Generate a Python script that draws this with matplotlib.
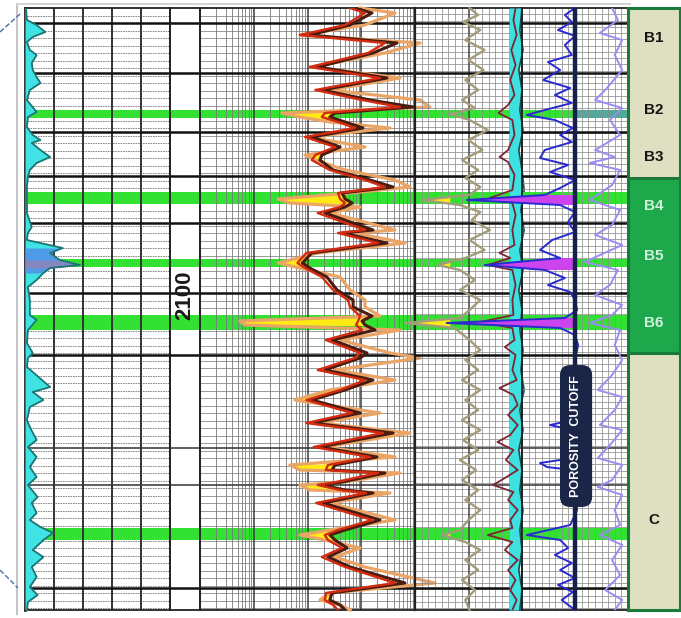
import numpy as np
import matplotlib.pyplot as plt
from matplotlib.lines import Line2D

plt.rcParams['font.family'] = ['Liberation Sans', 'DejaVu Sans']

# ---------------- data (depth in m) ----------------
TOP, BASE = 2043.0, 2163.4
major_depths = [2046.0, 2056.0, 2067.8, 2076.6, 2086.0, 2100.0, 2112.4, 2159.0]
medium_depths = [2131.0, 2138.4]
porous_tops = [2063.4, 2079.8, 2093.2, 2104.4, 2147.0]
porous_bases = [2065.0, 2082.2, 2094.8, 2107.4, 2149.4]

zone_names = ['B1', 'B2', 'B3', 'B4', 'B5', 'B6', 'C']
zone_label_depths = [2049.0, 2063.4, 2072.8, 2082.6, 2092.6, 2106.0, 2145.4]
unit_tops = [2043.0, 2077.0, 2112.0]
unit_bases = [2077.0, 2112.0, 2163.4]

# gamma ray (track 1)
gr_depth = [2043.0, 2045.4, 2046.4, 2047.8, 2048.8, 2049.8, 2051.4, 2052.4, 2054.0, 2055.4,
            2056.8, 2058.0, 2059.4, 2061.4, 2063.8, 2064.8, 2066.8, 2068.4, 2069.4, 2070.0,
            2071.4, 2072.8, 2074.0, 2075.4, 2076.8, 2078.8, 2081.4, 2084.0, 2086.8, 2088.0,
            2089.4, 2091.0, 2092.0, 2093.4, 2094.4, 2095.0, 2096.0, 2097.4, 2098.8, 2101.4,
            2104.4, 2105.4, 2107.4, 2110.0, 2112.0, 2113.0, 2114.8, 2118.8, 2119.8, 2121.4,
            2122.8, 2125.4, 2126.8, 2129.4, 2130.8, 2132.8, 2134.8, 2136.8, 2138.4, 2140.8,
            2142.0, 2144.0, 2145.4, 2146.8, 2148.0, 2149.4, 2151.4, 2152.8, 2154.8, 2156.8,
            2158.8, 2160.4, 2161.8, 2163.4]
gr_api = [1, 2, 12, 21, 8, 2, 5, 12, 7, 8,
          12, 16, 5, 2, 12, 3, 2, 8, 16, 7,
          16, 26, 12, 5, 3, 2, 2, 2, 7, 3,
          2, 39, 26, 36, 57, 26, 19, 12, 3, 5,
          5, 12, 3, 2, 8, 3, 2, 26, 8, 19,
          5, 2, 5, 12, 3, 12, 5, 12, 3, 13,
          7, 12, 5, 16, 29, 19, 8, 19, 7, 12,
          5, 13, 3, 2]

# resistivity (track 2), ohm.m
res_depth = [2043.0, 2044.0, 2046.4, 2048.4, 2050.0, 2052.0, 2054.8, 2057.0, 2059.4, 2061.4,
             2062.8, 2064.0, 2064.8, 2065.8, 2067.0, 2068.8, 2070.8, 2072.4, 2073.4, 2075.4,
             2077.4, 2078.8, 2080.0, 2081.2, 2082.0, 2082.8, 2084.0, 2087.4, 2088.0, 2090.0,
             2092.0, 2094.0, 2095.0, 2096.8, 2099.4, 2101.4, 2102.8, 2104.6, 2105.6, 2106.4,
             2107.4, 2109.4, 2112.0, 2113.0, 2115.4, 2117.4, 2119.4, 2121.4, 2124.0, 2126.0,
             2128.0, 2130.8, 2132.8, 2134.4, 2135.4, 2136.0, 2137.8, 2138.4, 2139.4, 2140.0,
             2142.0, 2145.4, 2147.4, 2148.4, 2149.4, 2151.0, 2152.8, 2154.8, 2158.0, 2160.0,
             2161.4, 2162.4, 2163.4]
res_deep = [153, 317, 124, 22, 925, 331, 31, 603, 37, 291,
            1837, 65, 52, 100, 216, 24, 81, 37, 34, 60,
            291, 779, 88, 100, 135, 100, 42, 331, 88, 603,
            24, 16, 22, 46, 71, 141, 141, 317, 207, 235,
            361, 57, 256, 190, 42, 331, 100, 24, 190, 25,
            779, 34, 393, 65, 57, 553, 88, 37, 100, 331,
            39, 447, 100, 52, 65, 109, 48, 124, 1303, 57,
            52, 81, 100]
res_med = [124, 235, 100, 14.5, 553, 267, 22, 447, 28, 207,
           1052, 42, 37, 74, 153, 18, 65, 28, 24, 52,
           235, 553, 74, 81, 100, 81, 31, 235, 74, 410,
           19, 13, 18, 37, 60, 113, 124, 190, 175, 160,
           207, 44, 190, 153, 31, 235, 81, 19, 135, 19,
           508, 26, 291, 48, 44, 410, 68, 31, 81, 245,
           29, 317, 74, 42, 48, 88, 37, 100, 849, 44,
           42, 60, 74]
res_shallow = [190, 849, 235, 14.5, 2478, 553, 24, 1052, 52, 2478,
               3800, 6.7, 14.5, 52, 686, 22, 235, 18, 28, 100,
               849, 1614, 124, 5.7, 9.4, 190, 52, 849, 153, 1303,
               31, 5.7, 14.5, 81, 124, 235, 235, 447, 1.1, 1.4,
               1052, 81, 686, 2478, 65, 849, 52, 11.7, 447, 34,
               1614, 42, 849, 9.4, 14.5, 1052, 100, 14.5, 22, 686,
               52, 849, 52, 14.5, 42, 190, 65, 235, 4710, 52,
               34, 81, 124]

# track 3 curves (scale 0-100)
olive_depth = [2043.0, 2044.4, 2045.8, 2047.4, 2049.4, 2051.4, 2053.4, 2055.4, 2057.4, 2059.4,
               2061.4, 2063.0, 2064.2, 2065.4, 2067.4, 2069.4, 2071.4, 2073.4, 2075.4, 2077.0,
               2078.8, 2080.4, 2081.4, 2082.4, 2083.8, 2085.4, 2087.4, 2089.4, 2091.4, 2093.0,
               2094.4, 2095.4, 2097.4, 2099.4, 2101.4, 2103.4, 2105.0, 2106.0, 2107.0, 2109.4,
               2111.4, 2113.4, 2115.4, 2117.4, 2119.4, 2121.4, 2123.4, 2125.4, 2127.4, 2129.4,
               2131.4, 2133.4, 2135.4, 2137.4, 2139.4, 2141.4, 2143.4, 2145.4, 2147.4, 2148.4,
               2149.8, 2151.4, 2153.4, 2155.4, 2157.4, 2159.4, 2161.4, 2163.4]
olive_curve = [51, 59, 45, 61, 47, 65, 50, 64, 47, 59,
               44, 56, 33, 51, 68, 50, 63, 44, 59, 47,
               61, 51, 7, 42, 61, 53, 70, 51, 65, 47,
               21, 42, 56, 42, 61, 51, 42, -9, 37, 51,
               61, 47, 59, 44, 61, 47, 59, 44, 61, 45,
               59, 42, 57, 44, 59, 47, 61, 50, 42, 26,
               47, 61, 47, 59, 44, 56, 47, 51]
olive_base = 33

red_depth = [2043.0, 2045.4, 2048.4, 2051.4, 2054.4, 2057.4, 2060.4, 2062.4, 2064.0, 2065.4,
             2068.4, 2071.4, 2072.8, 2073.8, 2076.4, 2079.4, 2081.0, 2082.0, 2084.4, 2087.4,
             2090.4, 2092.0, 2093.0, 2094.4, 2095.4, 2098.4, 2101.4, 2104.4, 2105.8, 2107.0,
             2109.4, 2110.8, 2112.4, 2115.4, 2117.4, 2119.0, 2120.4, 2122.4, 2124.4, 2126.4,
             2128.4, 2129.8, 2131.4, 2133.4, 2135.4, 2137.0, 2138.4, 2139.8, 2141.4, 2143.4,
             2145.4, 2147.0, 2148.4, 2149.8, 2151.4, 2153.4, 2155.4, 2157.4, 2159.4, 2161.4,
             2163.4]
red_curve = [94, 92, 95, 90, 94, 89, 93, 87, 78, 91,
             93, 87, 79, 87, 93, 91, 70, 91, 94, 91,
             93, 79, 89, 68, 91, 94, 91, 92, 61, 91,
             93, 84, 94, 91, 95, 79, 92, 96, 87, 96,
             89, 77, 92, 85, 96, 84, 73, 92, 87, 96,
             89, 91, 68, 91, 84, 96, 87, 94, 89, 95,
             91]

cal_depth = [2043.0, 2047.4, 2051.4, 2055.4, 2059.4, 2063.4, 2067.4, 2071.4, 2075.4, 2079.4,
             2083.4, 2087.4, 2091.4, 2095.4, 2099.4, 2103.4, 2107.4, 2111.4, 2115.4, 2119.4,
             2123.4, 2127.4, 2131.4, 2135.4, 2139.4, 2143.4, 2147.4, 2151.4, 2155.4, 2159.4,
             2163.4]
cal_curve = [100, 98, 101, 97, 100, 98, 101, 97, 100, 102,
             99, 102, 98, 101, 97, 100, 98, 101, 99, 102,
             98, 101, 97, 100, 98, 101, 98, 100, 97, 100,
             98]
bit_size = 88

# track 4 porosity (v/v)
phi_depth = [2043.0, 2044.4, 2045.8, 2047.4, 2048.6, 2050.4, 2052.4, 2053.8, 2055.4, 2057.4,
             2059.0, 2060.4, 2062.0, 2063.4, 2064.4, 2065.4, 2067.0, 2068.4, 2069.8, 2071.4,
             2073.0, 2074.4, 2075.8, 2077.4, 2079.0, 2080.4, 2081.4, 2082.4, 2083.8, 2085.8,
             2087.8, 2089.4, 2091.4, 2093.0, 2094.4, 2095.4, 2097.0, 2098.4, 2099.8, 2101.4,
             2103.4, 2105.0, 2106.0, 2107.0, 2108.4, 2110.4, 2113.4, 2116.4, 2119.4, 2121.4,
             2125.4, 2126.4, 2127.4, 2130.4, 2133.4, 2134.0, 2134.8, 2135.4, 2139.4, 2143.4,
             2146.4, 2148.4, 2149.4, 2151.0, 2152.4, 2154.0, 2155.4, 2157.0, 2158.4, 2159.8,
             2161.4, 2163.4]
phi_blue = [0.100, 0.119, 0.106, 0.132, 0.100, 0.119, 0.106, 0.151, 0.128, 0.160,
            0.109, 0.138, 0.106, 0.157, 0.191, 0.138, 0.104, 0.128, 0.106, 0.157,
            0.166, 0.113, 0.147, 0.100, 0.128, 0.157, 0.304, 0.128, 0.100, 0.113,
            0.100, 0.143, 0.166, 0.128, 0.270, 0.157, 0.119, 0.151, 0.109, 0.100,
            0.096, 0.119, 0.342, 0.128, 0.100, 0.094, 0.100, 0.096, 0.100, 0.096,
            0.104, 0.147, 0.106, 0.100, 0.128, 0.166, 0.153, 0.106, 0.100, 0.096,
            0.109, 0.191, 0.128, 0.113, 0.138, 0.106, 0.128, 0.100, 0.132, 0.104,
            0.125, 0.100]
vio_depth = [2043.0, 2045.4, 2048.0, 2049.4, 2052.4, 2055.4, 2059.4, 2061.4, 2063.0, 2065.4,
             2068.4, 2071.4, 2072.8, 2074.0, 2075.4, 2078.4, 2081.4, 2083.4, 2086.4, 2088.4,
             2090.4, 2092.4, 2093.8, 2095.4, 2098.4, 2100.4, 2102.4, 2104.4, 2106.0, 2107.4,
             2110.4, 2113.4, 2116.4, 2119.4, 2120.8, 2123.4, 2126.4, 2127.4, 2130.4, 2133.0,
             2134.4, 2137.4, 2138.8, 2140.4, 2143.4, 2146.4, 2148.4, 2150.4, 2153.4, 2156.4,
             2159.4, 2161.4, 2163.4]
vio_curve = [0.030, 0.019, 0.053, 0.011, 0.025, 0.011, 0.043, 0.062, 0.011, 0.034,
             0.015, 0.062, 0.025, 0.072, 0.015, 0.030, 0.072, 0.015, 0.030, 0.062,
             0.011, 0.053, 0.081, 0.019, 0.034, 0.062, 0.011, 0.030, 0.072, 0.015,
             0.025, 0.011, 0.030, 0.057, 0.011, 0.025, 0.053, 0.011, 0.034, 0.057,
             0.011, 0.030, 0.057, 0.011, 0.025, 0.015, 0.053, 0.011, 0.030, 0.015,
             0.043, 0.011, 0.025]
phi_cutoff = 0.10

# ---------------- styling ----------------
GREEN = '#33e133'
W, H = 681, 618
fig = plt.figure(figsize=(W / 100, H / 100), dpi=100)
fig.patch.set_facecolor('white')


def track(x0, x1):
    ax = fig.add_axes([x0 / W, 8 / H, (x1 - x0) / W, 602 / H])
    ax.set_facecolor('none')
    ax.set_ylim(BASE, TOP)
    ax.set_xticks([])
    ax.set_yticks([])
    ax.minorticks_off()
    for s in ax.spines.values():
        s.set_color('#222')
        s.set_linewidth(1.3)
    return ax


def hgrid(ax, step, color='#8e8e8e', ls='-', lw=0.55):
    for d in np.arange(TOP + step, BASE, step):
        ax.axhline(d, color=color, lw=lw, ls=ls, zorder=1)


def bands(ax):
    for t, b in zip(porous_tops, porous_bases):
        ax.axhspan(t, b, color=GREEN, lw=0, zorder=1.5)


def majors(ax):
    for d in major_depths:
        ax.axhline(d, color='#111', lw=1.8, zorder=2.6)
    for d in medium_depths:
        ax.axhline(d, color='#333', lw=1.1, zorder=2.6)


# ---- track 1: gamma ray ----
ax1 = track(25, 170)
ax1.set_xlim(0, 150)
hgrid(ax1, 1.5, color='#777', ls=(0, (2, 1)), lw=0.6)
bands(ax1)
for v in [30, 60, 90, 120]:
    ax1.axvline(v, color='#333', lw=1.4, zorder=2.5)
majors(ax1)
gd = np.array(gr_depth)
ga = np.array(gr_api)
ax1.fill_betweenx(gd, 0, ga, color='#3fe3e3', lw=0, zorder=3)
ax1.fill_betweenx(gd, 0, ga, where=(gd >= 2090.8) & (gd <= 2096.2), color='#4e9ce8', lw=0, zorder=3.1)
ax1.fill_betweenx(gd, 0, ga, where=(gd >= 2093.2) & (gd <= 2095.2), color='#8487c0', lw=0, zorder=3.2)
ax1.plot(ga, gd, color='#1f7474', lw=1.3, zorder=4)
ax1.spines['left'].set_linewidth(2)

# ---- depth column ----
axd = track(170, 200)
axd.set_xlim(0, 1)
bands(axd)
majors(axd)
axd.text(0.5, 2100.4, '2100', rotation=90, ha='center', va='center',
         fontsize=16, fontweight='bold', color='#1a1a1a', zorder=5)

# ---- track 2: resistivity (log) ----
ax2 = track(200, 415)
ax2.set_xscale('log')
ax2.set_xlim(0.2, 2000)
ax2.set_xticks([])
ax2.minorticks_off()
hgrid(ax2, 1.5, color='#808080', lw=0.55)
bands(ax2)
for dec in [0.2, 2, 20, 200]:
    for m in range(1, 10):
        ax2.axvline(dec * m, color='#3a3a3a' if m == 1 else '#7a7a7a',
                    lw=1.1 if m == 1 else 0.6, zorder=2.4)
majors(ax2)
rd = np.array(res_depth)
rs = np.array(res_shallow, dtype=float)
rdp = np.array(res_deep, dtype=float)
ax2.fill_betweenx(rd, rs, rdp, where=rs < rdp, interpolate=True,
                  color='#ffea14', lw=0, zorder=3)
ax2.plot(res_shallow, res_depth, color='#eaa566', lw=2.3, zorder=3.5, clip_on=False)
ax2.plot(res_deep, res_depth, color='#4a1c10', lw=2.2, zorder=3.7)
ax2.plot(res_med, res_depth, color='#d42a10', lw=1.7, zorder=3.8)

# ---- track 3 ----
ax3 = track(415, 522)
ax3.set_xlim(0, 100)
hgrid(ax3, 1.25)
bands(ax3)
for v in np.arange(6.25, 100, 6.25):
    ax3.axvline(v, color='#444' if v == 50 else '#8e8e8e', lw=1.1 if v == 50 else 0.55, zorder=2.4)
majors(ax3)
cd = np.array(cal_depth)
ax3.fill_betweenx(cd, bit_size, cal_curve, color='#3fe0e0', lw=0, zorder=3)
ax3.plot(cal_curve, cal_depth, color='#1a5050', lw=1.2, zorder=3.3, clip_on=False)
od = np.array(olive_depth)
oc = np.array(olive_curve, dtype=float)
ax3.fill_betweenx(od, oc, olive_base, where=oc < olive_base, interpolate=True,
                  color='#ffea14', lw=0, zorder=3.1, clip_on=False)
ax3.plot(olive_curve, olive_depth, color='#a29c7a', lw=1.7, zorder=3.4, clip_on=False)
ax3.plot(red_curve, red_depth, color='#7c2434', lw=1.3, zorder=3.5)
ax3.spines['left'].set_linewidth(1.6)

# ---- track 4: porosity ----
ax4 = track(522, 628)
ax4.set_xlim(0.2, 0.0)
hgrid(ax4, 1.25)
bands(ax4)
ax4.axhspan(porous_tops[0], porous_bases[0], xmin=0.5, xmax=1.0, color='#52a89a', lw=0, zorder=1.6)
for v in np.arange(0.0125, 0.2, 0.0125):
    ax4.axvline(v, color='#8e8e8e', lw=0.55, zorder=2.4)
majors(ax4)
pd_ = np.array(phi_depth)
pb = np.array(phi_blue)
spike = pb > 0.2
spike = spike | np.roll(spike, 1) | np.roll(spike, -1)
ax4.fill_betweenx(pd_, pb, phi_cutoff, where=spike, color='#cc44ee', lw=0, zorder=3, clip_on=False)
ax4.plot(vio_curve, vio_depth, color='#9b8cf2', lw=1.4, zorder=3.4)
ax4.plot(phi_blue, phi_depth, color='#2a2ad0', lw=1.4, zorder=3.5, clip_on=False)
ax4.axvline(phi_cutoff, color='#17204a', lw=3.2, zorder=5)
ax4.text(0.098, 2128.6, 'POROSITY  CUTOFF', rotation=90, ha='center', va='center',
         color='white', fontsize=9, fontweight='bold', zorder=8,
         bbox=dict(boxstyle='round,pad=0.75', fc='#1b2547', ec='#1b2547'))

# ---- zone column ----
axz = track(628, 680)
axz.set_xlim(0, 1)
unit_colors = ['#dfe0c2', '#1ea84c', '#dfe0c2']
for t, b, c in zip(unit_tops, unit_bases, unit_colors):
    axz.axhspan(t, b, color=c, lw=0, zorder=1)
for d in unit_tops[1:]:
    axz.axhline(d, color='#1a7a3a', lw=2.2, zorder=2)
for s in axz.spines.values():
    s.set_color('#1a7a3a')
    s.set_linewidth(2.2)
for name, d in zip(zone_names, zone_label_depths):
    light = unit_tops[1] <= d < unit_tops[2]
    axz.text(0.5, d, name, ha='center', va='center', fontsize=11, fontweight='bold',
             color='#d2f3dc' if light else '#151515', zorder=3)

# ---- page decorations ----
fig.add_artist(Line2D([17 / W, 17 / W], [1 - 4 / H, 1 - 614 / H], color='#c4c4c4', lw=1.5))
fig.add_artist(Line2D([17 / W, 630 / W], [1 - 4 / H, 1 - 4 / H], color='#d4d4d4', lw=1.5))
fig.add_artist(Line2D([0, 20 / W], [1 - 32 / H, 1 - 14 / H], color='#4a6fa5', lw=1, ls='--'))
fig.add_artist(Line2D([0, 18 / W], [1 - 570 / H, 1 - 588 / H], color='#4a6fa5', lw=1, ls='--'))

fig.savefig('out.png', dpi=100)
